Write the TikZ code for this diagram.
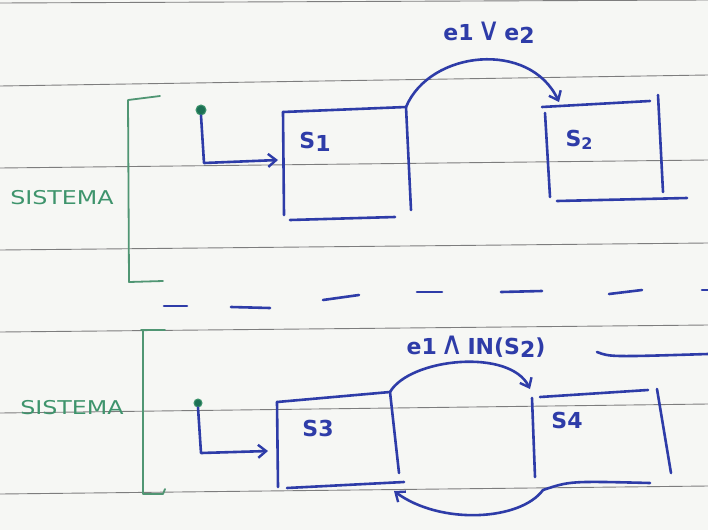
\documentclass[tikz,border=0pt]{standalone}
\usepackage{fontspec}
\setmainfont{DejaVu Sans}
\usetikzlibrary{arrows.meta}
\definecolor{ink}{RGB}{46,60,168}
\definecolor{grn}{RGB}{62,148,108}
\definecolor{grnline}{RGB}{80,150,115}
\definecolor{dotc}{RGB}{28,112,84}
\definecolor{paper}{RGB}{246,247,244}
\definecolor{rulec}{RGB}{125,125,125}
\newcommand{\logop}[1]{{\mdseries\scalebox{1.45}{#1}}}
\begin{document}
\begin{tikzpicture}[x=1pt,y=-1pt,
  pen/.style={draw=ink, line width=2.6pt, line cap=round, line join=round},
  penarrow/.style={pen, -{Straight Barb[length=8pt,width=13pt,line width=2.4pt]}},
  gpen/.style={draw=grnline, line width=1.8pt, line cap=round, line join=round},
  ruled/.style={draw=rulec, line width=0.9pt},
  lbl/.style={text=ink, font=\bfseries\fontsize{22}{22}\selectfont, inner sep=0pt},
  tlbl/.style={text=ink, font=\bfseries\fontsize{22}{22}\selectfont, inner sep=0pt},
  sys/.style={text=grn, font=\fontsize{19}{19}\selectfont, inner sep=0pt, xscale=1.25},
  startdot/.style={circle, fill=dotc, draw=grn, line width=1pt, inner sep=0pt, minimum size=10pt}]
% paper
\fill[paper] (0,0) rectangle (708,530);
\useasboundingbox (0,0) rectangle (708,530);
% ruled lines
\draw[ruled] (0,3) -- (708,0);
\draw[ruled] (0,86) -- (708,75);
\draw[ruled] (0,168) -- (708,160);
\draw[ruled] (0,250) -- (708,243);
\draw[ruled] (0,332) -- (708,325);
\draw[ruled] (0,413) -- (708,404);
\draw[ruled] (0,494) -- (708,486);

% ---------------- upper system ----------------
\draw[gpen] (160,96) -- (128,100) -- (129,282) -- (163,281);
\node[sys] (sysA) at (62,198) {SISTEMA};
\node[startdot] (initA) at (201,110) {};
\coordinate (a1) at (204,163);
\coordinate (s1w) at (278,160);
\draw[penarrow] (initA.south) -- (a1) -- (s1w);
% S1
\coordinate (s1nw) at (283,112);
\coordinate (s1ne) at (406,107);
\coordinate (s1se) at (411,210);
\coordinate (s1sw) at (284,215);
\draw[pen] (s1nw) -- (s1ne);
\draw[pen] (s1nw) -- (s1sw);
\draw[pen] (s1ne) -- (s1se);
\draw[pen] (290,220) -- (395,217);
\node[lbl] (s1) at (315,142) {S\raisebox{-3pt}{1}};
% S2
\coordinate (s2nw) at (542,107);
\coordinate (s2tip) at (559,102);
\draw[pen] (s2nw) -- (650,101);
\draw[pen] (545,113) -- (550,197);
\draw[pen] (658,95) -- (663,192);
\draw[pen] (557,201) -- (687,198);
\node[lbl] (s2) at (579,140) {S\raisebox{-3pt}{\fontsize{16}{16}\selectfont 2}};
% transition S1 -> S2
\draw[penarrow] (s1ne) .. controls (430,50) and (530,40) .. (s2tip);
\node[tlbl] (t12) at (489,33) {e1\,\logop{∨}\,e\raisebox{-3pt}{2}};

% separator
\draw[pen] (164,306) -- (187,306);
\draw[pen] (231,307) -- (270,308);
\draw[pen] (323,300) -- (359,295);
\draw[pen] (417,292) -- (442,292);
\draw[pen] (501,292) -- (542,291);
\draw[pen] (609,294) -- (642,290);
\draw[pen] (702,290) -- (710,290);

% ---------------- lower system ----------------
\draw[gpen] (165,330) -- (141,330);
\draw[gpen] (143,330) -- (143,494) -- (163,494) -- (165,489);
\node[sys] (sysB) at (72,408) {SISTEMA};
\node[startdot, minimum size=8pt] (initB) at (198,403) {};
\coordinate (b1) at (201,453);
\coordinate (s3w) at (268,451);
\draw[penarrow] (initB.south) -- (b1) -- (s3w);
% S3
\coordinate (s3nw) at (277,402);
\coordinate (s3ne) at (390,392);
\coordinate (s3se) at (404,482);
\coordinate (s3tip) at (394,491);
\draw[pen] (s3nw) -- (s3ne);
\draw[pen] (s3nw) -- (278,487);
\draw[pen] (s3ne) -- (399,473);
\draw[pen] (287,488) -- (s3se);
\node[lbl] (s3) at (318,428) {S3};
% S4
\coordinate (s4tip) at (530,389);
\coordinate (s4sw) at (543,490);
\draw[pen] (540,397) -- (648,390);
\draw[pen] (532,398) -- (535,477);
\draw[pen] (657,389) -- (671,473);
\draw[pen] (s4sw) .. controls (570,481) .. (650,483);
\node[lbl] (s4) at (567,420) {S4};
% transition S3 -> S4
\draw[penarrow] (s3ne) .. controls (410,358) and (510,348) .. (s4tip);
\node[tlbl] (t34) at (476,347) {e1\,\logop{∧}\,IN(S\raisebox{-3pt}{2})};
% transition S4 -> S3
\draw[penarrow] (s4sw) .. controls (520,521) and (440,525) .. (s3tip);
% stroke right of the label
\draw[pen] (597,352) .. controls (610,357) .. (708,354);
\end{tikzpicture}
\end{document}
